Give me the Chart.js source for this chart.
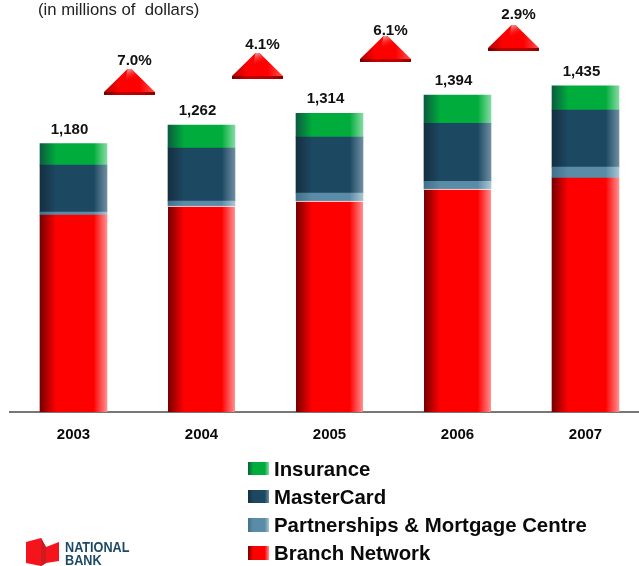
<!DOCTYPE html>
<html>
<head>
<meta charset="utf-8">
<title>Revenues by segment</title>
<script src="https://cdn.jsdelivr.net/npm/chart.js@4"></script>
<style>
  html, body { margin: 0; padding: 0; background: #fff; overflow: hidden; }
  canvas { display: block; }
</style>
</head>
<body>
<canvas id="myChart" width="660" height="566"></canvas>
<script>
const years = ['2003', '2004', '2005', '2006', '2007'];
const branchNetwork = [866, 906, 928, 980, 1029];
const partnerships = [13, 22, 35, 35, 48];
const masterCard = [207, 233, 246, 255, 251];
const insurance = [94, 101, 105, 124, 107];
const growthLabels = ['7.0%', '4.1%', '6.1%', '2.9%'];

const FONT = '"Liberation Sans", Arial, sans-serif';

// left shade, main colour, right highlight for each stack segment
const shades = {
  insurance: ['#0b5c40', '#00ac3c', '#86dba4'],
  masterCard: ['#14303f', '#1c4862', '#6f8fa2'],
  partnerships: ['#42708a', '#5a8ca8', '#a9c6d4'],
  branch: ['#750000', '#ff0000', '#ff9090']
};

function sideGradient(ctx, x0, x1, c) {
  const g = ctx.createLinearGradient(x0, 0, x1, 0);
  g.addColorStop(0, c[0]);
  g.addColorStop(0.24, c[1]);
  g.addColorStop(0.8, c[1]);
  g.addColorStop(1, c[2]);
  return g;
}

function barFill(c) {
  return function (context) {
    const chart = context.chart;
    const x = chart.scales.x ? chart.scales.x.getPixelForValue(context.dataIndex) : NaN;
    if (!Number.isFinite(x)) return c[1]; // scales not laid out yet
    return sideGradient(chart.ctx, x - 33.5, x + 33.5, c);
  };
}

// arrow layout: horizontal shift from the gap centre, base line and label line
const arrowShift = -8;
const arrowBases = [95, 79, 62, 51];
const labelBases = [65, 49, 35, 19];

const annotations = {
  id: 'annotations',
  afterDraw(chart) {
    const { ctx, scales } = chart;
    ctx.save();
    ctx.textBaseline = 'alphabetic';

    // heading
    ctx.fillStyle = '#222';
    ctx.font = '16.7px ' + FONT;
    ctx.textAlign = 'left';
    ctx.fillText('(in millions of  dollars)', 38, 15);

    // totals above the stacks
    ctx.fillStyle = '#111';
    ctx.font = 'bold 15px ' + FONT;
    ctx.textAlign = 'center';
    years.forEach((y, i) => {
      const total = branchNetwork[i] + partnerships[i] + masterCard[i] + insurance[i];
      ctx.fillText(total.toLocaleString('en-US'), scales.x.getPixelForValue(i) - 4, scales.y.getPixelForValue(total) - 10);
    });

    // growth arrows between the stacks
    growthLabels.forEach((label, i) => {
      const mid = (scales.x.getPixelForValue(i) + scales.x.getPixelForValue(i + 1)) / 2;
      drawArrow(ctx, mid + arrowShift, arrowBases[i]);
      ctx.fillStyle = '#111';
      ctx.font = 'bold 15.2px ' + FONT;
      ctx.textAlign = 'center';
      ctx.fillText(label, mid - 3, labelBases[i]);
    });

    drawLegend(ctx);
    drawLogo(ctx);
    ctx.restore();
  }
};

function drawArrow(ctx, cx, base) {
  const half = 25.5;
  const apex = base - 26;
  // body
  const body = ctx.createLinearGradient(cx - half, 0, cx + half, 0);
  body.addColorStop(0, '#b00000');
  body.addColorStop(0.3, '#ff0000');
  body.addColorStop(0.7, '#ff0000');
  body.addColorStop(1, '#ff5050');
  ctx.fillStyle = body;
  ctx.beginPath();
  ctx.moveTo(cx - 2, apex);
  ctx.lineTo(cx + 2, apex);
  ctx.lineTo(cx + half, base - 3);
  ctx.lineTo(cx - half, base - 3);
  ctx.closePath();
  ctx.fill();
  // light on the tip and the right slope
  const tip = ctx.createLinearGradient(cx + 1, apex, cx + 5, apex + 10);
  tip.addColorStop(0, '#f08a8a');
  tip.addColorStop(1, 'rgba(255,0,0,0)');
  ctx.fillStyle = tip;
  ctx.beginPath();
  ctx.moveTo(cx - 2, apex);
  ctx.lineTo(cx + 2, apex);
  ctx.lineTo(cx + 12, apex + 11);
  ctx.lineTo(cx - 4, apex + 11);
  ctx.closePath();
  ctx.fill();
  // shaded edge along the base
  const band = ctx.createLinearGradient(cx - half, 0, cx + half, 0);
  band.addColorStop(0, '#6e0000');
  band.addColorStop(0.25, '#c00000');
  band.addColorStop(0.75, '#b80000');
  band.addColorStop(1, '#8a0000');
  ctx.fillStyle = band;
  ctx.fillRect(cx - half, base - 3, half * 2, 3);
}

const legendRows = [
  { label: 'Insurance', c: shades.insurance, top: 462, h: 13, base: 475.5 },
  { label: 'MasterCard', c: shades.masterCard, top: 490, h: 13, base: 503.5 },
  { label: 'Partnerships & Mortgage Centre', c: shades.partnerships, top: 518, h: 14, base: 531.5 },
  { label: 'Branch Network', c: shades.branch, top: 546, h: 14, base: 560 }
];

function drawLegend(ctx) {
  ctx.textAlign = 'left';
  ctx.font = 'bold 20.4px ' + FONT;
  legendRows.forEach(r => {
    ctx.fillStyle = sideGradient(ctx, 248, 269, r.c);
    ctx.fillRect(248, r.top, 21, r.h);
    ctx.fillStyle = '#0a0a0a';
    ctx.fillText(r.label, 274, r.base);
  });
}

function drawLogo(ctx) {
  ctx.fillStyle = '#f5141c';
  ctx.beginPath();
  ctx.moveTo(26, 542);
  ctx.lineTo(41, 538);
  ctx.lineTo(46, 547);
  ctx.lineTo(59, 542);
  ctx.lineTo(59, 561);
  ctx.lineTo(46, 563);
  ctx.lineTo(41, 566);
  ctx.lineTo(26, 563);
  ctx.closePath();
  ctx.fill();
  ctx.fillStyle = '#cf1a20';
  ctx.beginPath();
  ctx.moveTo(41, 538);
  ctx.lineTo(46, 547);
  ctx.lineTo(46, 563);
  ctx.lineTo(41, 566);
  ctx.closePath();
  ctx.fill();
  // wordmark is tall and a little condensed
  ctx.fillStyle = '#1c4a63';
  ctx.font = 'bold 14.4px ' + FONT;
  ctx.textAlign = 'left';
  ctx.save();
  ctx.translate(65, 0);
  ctx.scale(0.88, 1);
  ctx.fillText('NATIONAL', 0, 552);
  ctx.fillText('BANK', 0, 564.5);
  ctx.restore();
}

const ctx = document.getElementById('myChart').getContext('2d');

new Chart(ctx, {
  type: 'bar',
  data: {
    labels: years,
    datasets: [
      {
        label: 'Branch Network',
        data: branchNetwork,
        backgroundColor: barFill(shades.branch),
        borderColor: '#fff',
        borderWidth: c => (c.dataIndex > 0 && c.dataIndex < 4 ? { top: 1 } : 0),
        borderSkipped: false
      },
      { label: 'Partnerships & Mortgage Centre', data: partnerships, backgroundColor: barFill(shades.partnerships) },
      { label: 'MasterCard', data: masterCard, backgroundColor: barFill(shades.masterCard) },
      { label: 'Insurance', data: insurance, backgroundColor: barFill(shades.insurance) }
    ]
  },
  options: {
    responsive: false,
    animation: false,
    layout: { padding: { left: 9.5, right: 10.5, top: 0, bottom: 0 } },
    datasets: { bar: { barThickness: 67 } },
    plugins: {
      legend: { display: false },
      tooltip: { enabled: false }
    },
    scales: {
      x: {
        stacked: true,
        grid: { display: false },
        border: { color: '#777', width: 2 },
        ticks: { color: '#0a0a0a', font: { family: FONT, size: 15, weight: 'bold' }, padding: 6, maxRotation: 0 },
        afterFit(scale) { scale.height = 154; }
      },
      y: {
        stacked: true,
        display: false,
        min: 0,
        max: 1812
      }
    }
  },
  plugins: [annotations]
});
</script>
</body>
</html>
